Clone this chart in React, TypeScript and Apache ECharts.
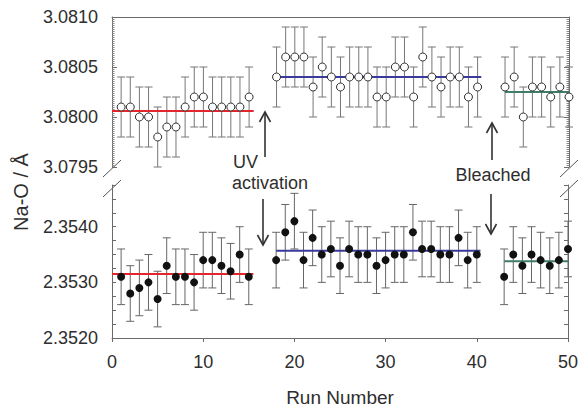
import React, { useEffect, useRef } from 'react';
import * as echarts from 'echarts';

// Run numbers for each measurement
const runs = [
  1, 2, 3, 4, 5, 6, 7, 8, 9, 10, 11, 12, 13, 14, 15,
  18, 19, 20, 21, 22, 23, 24, 25, 26, 27, 28, 29, 30, 31, 32, 33, 34, 35, 36, 37, 38, 39, 40,
  43, 44, 45, 46, 47, 48, 49, 50,
];

// Upper panel (open circles), Na-O in Å
const topValues = [
  3.0801, 3.0801, 3.0800, 3.0800, 3.0798, 3.0799, 3.0799, 3.0801, 3.0802, 3.0802, 3.0801, 3.0801, 3.0801, 3.0801, 3.0802,
  3.0804, 3.0806, 3.0806, 3.0806, 3.0803, 3.0805, 3.0804, 3.0803, 3.0804, 3.0804, 3.0804, 3.0802, 3.0802, 3.0805, 3.0805,
  3.0802, 3.0806, 3.0804, 3.0803, 3.0804, 3.0804, 3.0802, 3.0803,
  3.0803, 3.0804, 3.0800, 3.0803, 3.0803, 3.0802, 3.0803, 3.0802,
];

// Lower panel (filled circles), Na-O in Å
const bottomValues = [
  2.3531, 2.3528, 2.3529, 2.3530, 2.3527, 2.3533, 2.3531, 2.3531, 2.3530, 2.3534, 2.3534, 2.3533, 2.3532, 2.3535, 2.3531,
  2.3534, 2.3539, 2.3541, 2.3534, 2.3538, 2.3535, 2.3536, 2.3533, 2.3536, 2.3535, 2.3535, 2.3533, 2.3534, 2.3535, 2.3535,
  2.3539, 2.3536, 2.3536, 2.3535, 2.3535, 2.3538, 2.3534, 2.3535,
  2.3531, 2.3535, 2.3533, 2.3535, 2.3534, 2.3533, 2.3534, 2.3536,
];

const topError = 0.0003;
const bottomError = 0.0005;

// Average lines: before UV, after UV activation, after bleaching
const segmentStarts = [0, 18, 43];
const segmentEnds = [15.5, 40.4, 50];
const topMeans = [3.08006, 3.0804, 3.08025];
const bottomMeans = [2.35315, 2.35357, 2.35338];
const segmentColors = ['#e3262b', '#3a3a9c', '#3f7d66'];

const xTicks = [0, 10, 20, 30, 40, 50];

const FONT = 'Liberation Sans, Arial, Helvetica, sans-serif';
const TEXT = '#2e2e2e';
const AXIS = '#6a6a6a';

function errorBarSeries(xAxisIndex: number, yAxisIndex: number, values: number[], err: number, color: string) {
  return {
    type: 'custom',
    xAxisIndex,
    yAxisIndex,
    z: 1,
    encode: { x: 0, y: [1, 2] },
    data: runs.map((r, i) => [r, values[i] - err, values[i] + err]),
    renderItem: (params: any, api: any) => {
      const x = api.value(0);
      const lo = api.coord([x, api.value(1)]);
      const hi = api.coord([x, api.value(2)]);
      const w = 4;
      const style = { stroke: color, lineWidth: 1 };
      return {
        type: 'group',
        children: [
          { type: 'line', shape: { x1: lo[0], y1: lo[1], x2: hi[0], y2: hi[1] }, style },
          { type: 'line', shape: { x1: lo[0] - w, y1: lo[1], x2: lo[0] + w, y2: lo[1] }, style },
          { type: 'line', shape: { x1: hi[0] - w, y1: hi[1], x2: hi[0] + w, y2: hi[1] }, style },
        ],
      };
    },
  };
}

function meanSeries(xAxisIndex: number, yAxisIndex: number, means: number[]) {
  return means.map((m, i) => ({
    type: 'line',
    xAxisIndex,
    yAxisIndex,
    z: 2,
    symbol: 'none',
    data: [[segmentStarts[i], m], [segmentEnds[i], m]],
    lineStyle: { color: segmentColors[i], width: 2 },
  }));
}

function arrow(x: number, y1: number, y2: number) {
  // y2 is the tip
  const dir = y2 < y1 ? 1 : -1;
  return [
    { type: 'line', shape: { x1: x, y1, x2: x, y2 }, style: { stroke: '#333', lineWidth: 1.6 } },
    {
      type: 'polyline',
      shape: { points: [[x - 5.5, y2 + dir * 10], [x, y2], [x + 5.5, y2 + dir * 10]] },
      style: { stroke: '#333', lineWidth: 1.6, fill: null },
    },
  ];
}

function breakMarks(x: number) {
  return [
    { type: 'line', shape: { x1: x - 9, y1: 177, x2: x + 9, y2: 160 }, style: { stroke: '#555', lineWidth: 1 } },
    { type: 'line', shape: { x1: x - 9, y1: 197, x2: x + 9, y2: 180 }, style: { stroke: '#555', lineWidth: 1 } },
  ];
}

const isMultiple = (v: number, step: number) => Math.abs(v / step - Math.round(v / step)) < 1e-6;

export default function App() {
  const ref = useRef<HTMLDivElement>(null);

  useEffect(() => {
    if (!ref.current) return;
    const chart = echarts.init(ref.current, null, { renderer: 'svg' });

    const yLabel = { show: true, fontSize: 18, fontFamily: FONT, color: TEXT, margin: 14 };

    const topY = (position: 'left' | 'right') => ({
      type: 'value',
      gridIndex: 0,
      position,
      min: 3.0795,
      max: 3.081,
      interval: 0.0005,
      axisLine: { show: true, lineStyle: { color: AXIS, width: 1 } },
      axisTick: { show: true, inside: true, length: 5, lineStyle: { color: AXIS } },
      minorTick: { show: true, splitNumber: 25, length: 2.5, lineStyle: { color: '#888' } },
      splitLine: { show: false },
      axisLabel: position === 'left' ? { ...yLabel, formatter: (v: number) => v.toFixed(4) } : { show: false },
    });

    const bottomY = (position: 'left' | 'right') => ({
      type: 'value',
      gridIndex: 1,
      position,
      min: 2.352,
      max: 2.35475,
      interval: 0.00025,
      axisLine: { show: true, lineStyle: { color: AXIS, width: 1 } },
      axisTick: { show: true, inside: true, length: 4, lineStyle: { color: AXIS } },
      splitLine: { show: false },
      axisLabel:
        position === 'left'
          ? { ...yLabel, formatter: (v: number) => (isMultiple(v, 0.001) ? v.toFixed(4) : '') }
          : { show: false },
    });

    const option: any = {
      animation: false,
      backgroundColor: '#fff',
      grid: [
        { left: 112, right: 12, top: 17, height: 150 },
        { left: 112, right: 12, top: 185, bottom: 69 },
      ],
      xAxis: [
        {
          type: 'value',
          gridIndex: 0,
          position: 'top',
          min: 0,
          max: 50,
          interval: 10,
          axisLine: { show: true, onZero: false, lineStyle: { color: AXIS, width: 1 } },
          axisTick: { show: false },
          axisLabel: { show: false },
          splitLine: { show: false },
        },
        {
          type: 'value',
          gridIndex: 1,
          position: 'bottom',
          min: 0,
          max: 50,
          interval: 10,
          axisLine: { show: true, onZero: false, lineStyle: { color: AXIS, width: 1 } },
          axisTick: { show: true, inside: false, length: 4, lineStyle: { color: AXIS } },
          axisLabel: {
            show: true,
            fontSize: 18,
            fontFamily: FONT,
            color: TEXT,
            margin: 15,
            formatter: (v: number) => (xTicks.includes(v) ? String(v) : ''),
          },
          splitLine: { show: false },
        },
      ],
      yAxis: [topY('left'), topY('right'), bottomY('left'), bottomY('right')],
      series: [
        errorBarSeries(0, 0, topValues, topError, '#777'),
        errorBarSeries(1, 2, bottomValues, bottomError, '#666'),
        ...meanSeries(0, 0, topMeans),
        ...meanSeries(1, 2, bottomMeans),
        {
          type: 'scatter',
          xAxisIndex: 0,
          yAxisIndex: 0,
          z: 3,
          symbol: 'circle',
          symbolSize: 8,
          data: runs.map((r, i) => [r, topValues[i]]),
          itemStyle: { color: '#fff', borderColor: '#333', borderWidth: 1, opacity: 1 },
        },
        {
          type: 'scatter',
          xAxisIndex: 1,
          yAxisIndex: 2,
          z: 3,
          symbol: 'circle',
          symbolSize: 8,
          data: runs.map((r, i) => [r, bottomValues[i]]),
          itemStyle: { color: '#111', opacity: 1 },
        },
      ],
      graphic: [
        ...breakMarks(112),
        ...breakMarks(569),
        ...arrow(265, 157, 112),
        ...arrow(263, 199, 245),
        ...arrow(492, 160, 123),
        ...arrow(491, 194, 234),
        {
          type: 'text',
          x: 233,
          y: 162,
          style: { text: 'UV', fontSize: 18, fontFamily: FONT, fill: TEXT, align: 'left', verticalAlign: 'middle' },
        },
        {
          type: 'text',
          x: 232,
          y: 183,
          style: { text: 'activation', fontSize: 18, fontFamily: FONT, fill: TEXT, align: 'left', verticalAlign: 'middle' },
        },
        {
          type: 'text',
          x: 493,
          y: 175,
          style: { text: 'Bleached', fontSize: 18, fontFamily: FONT, fill: TEXT, align: 'center', verticalAlign: 'middle' },
        },
        {
          type: 'text',
          x: 21,
          y: 192,
          rotation: Math.PI / 2,
          style: { text: 'Na-O / Å', fontSize: 20, fontFamily: FONT, fill: TEXT, align: 'center', verticalAlign: 'middle' },
        },
        {
          type: 'text',
          x: 340,
          y: 397,
          style: { text: 'Run Number', fontSize: 19, fontFamily: FONT, fill: TEXT, align: 'center', verticalAlign: 'middle' },
        },
      ],
    };

    chart.setOption(option);
    return () => chart.dispose();
  }, []);

  return <div ref={ref} style={{ position: 'fixed', left: 0, top: 0, width: 581, height: 407 }} />;
}
